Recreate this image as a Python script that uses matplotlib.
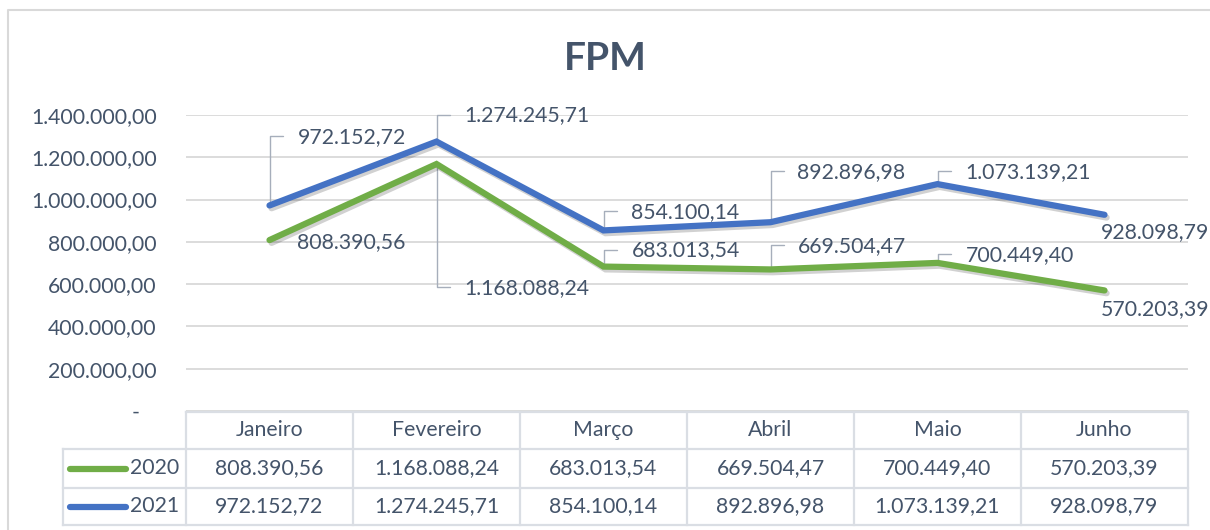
import matplotlib
matplotlib.use("Agg")
import matplotlib.pyplot as plt
import matplotlib.patheffects as pe
from matplotlib import transforms
from matplotlib.lines import Line2D
from matplotlib.ticker import FuncFormatter, MultipleLocator

# ---------------- data ----------------
months = ["Janeiro", "Fevereiro", "Março", "Abril", "Maio", "Junho"]
series_names = ["2020", "2021"]
values_2020 = [808390.56, 1168088.24, 683013.54, 669504.47, 700449.40, 570203.39]
values_2021 = [972152.72, 1274245.71, 854100.14, 892896.98, 1073139.21, 928098.79]

# ---------------- style ----------------
W, H = 1210, 530
TXT = "#44546A"
GREEN = "#70AD47"
BLUE = "#4472C4"
GRID = "#D9D9D9"
TABLE_LINE = "#DADEE4"
LEADER = "#A6AEBB"
FONT = "Lato"
FS = 15.3

plt.rcParams["font.family"] = [FONT, "DejaVu Sans"]


def br(v):
    s = f"{v:,.2f}"
    return s.replace(",", "X").replace(".", ",").replace("X", ".")


def fx(px):
    return px / W


def fy(py):
    return 1 - py / H


fig = plt.figure(figsize=(W / 100, H / 100), dpi=100)
fig.patch.set_facecolor("white")

# outer chart border (top and left edges visible; image cropped on right/bottom)
fig.add_artist(Line2D([fx(8), fx(8), fx(W)], [fy(H), fy(9.5), fy(9.5)],
                      transform=fig.transFigure, color="#D9D9D9", lw=1.5))

# axes: plot area
left, right, top, bottom = 186, 1188, 115, 411
ax = fig.add_axes([fx(left), fy(bottom), fx(right) - fx(left), fy(top) - fy(bottom)])
ax.set_xlim(-0.5, len(months) - 0.5)
ax.set_ylim(0, 1400000)
ax.yaxis.set_major_locator(MultipleLocator(200000))
ax.yaxis.set_major_formatter(FuncFormatter(lambda v, p: "-   " if v == 0 else br(v)))
ax.grid(axis="y", color=GRID, lw=1.3)
ax.set_axisbelow(True)
for s in ax.spines.values():
    s.set_visible(False)
ax.tick_params(axis="y", length=0, pad=21, labelsize=FS, labelcolor=TXT)
ax.tick_params(axis="x", length=0, labelbottom=False)
ax.set_xticks(range(len(months)))

xs = list(range(len(months)))
shadow = [pe.SimpleLineShadow(offset=(1.5, -2), alpha=0.18, shadow_color="black"), pe.Normal()]
ax.plot(xs, values_2020, color=GREEN, lw=4.5, solid_capstyle="round",
        solid_joinstyle="miter", path_effects=shadow, zorder=3)
ax.plot(xs, values_2021, color=BLUE, lw=4.5, solid_capstyle="round",
        solid_joinstyle="miter", path_effects=shadow, zorder=4)

# data labels: (dx, dy) in pixels from point to label's left/center, leader flag
offs_2021 = [(28, 68, True), (28, 26, True), (28, 18, True), (27, 50, True), (28, 12, True), (-4, -17, False)]
offs_2020 = [(28, -2, False), (28, -124, True), (28, 16, True), (27, 23, True), (28, 8, True), (-4, -19, False)]

for vals, offs in ((values_2021, offs_2021), (values_2020, offs_2020)):
    for i, (v, (dx, dy, lead)) in enumerate(zip(vals, offs)):
        ax.annotate(br(v), xy=(i, v), xytext=(dx, dy), textcoords="offset pixels",
                    ha="left", va="center", fontsize=FS, color=TXT, zorder=6,
                    annotation_clip=False)
        if lead:
            ax.annotate("", xy=(i, v), xytext=(13, dy + 1), textcoords="offset pixels",
                        arrowprops=dict(arrowstyle="-", color=LEADER, lw=1.0,
                                        shrinkA=0, shrinkB=0,
                                        connectionstyle="angle,angleA=0,angleB=90,rad=0"),
                        zorder=2)

# title
fig.text(0.5, fy(58), "FPM", ha="center", va="center", fontsize=28,
         fontweight="bold", color=TXT)

# ---------------- data table ----------------
tb = transforms.blended_transform_factory(ax.transData, fig.transFigure)
y_head_top, y_head_bot, y_r1_bot, y_r2_bot = 412, 449, 488, 525
tbl_left = 63
lw_t = 1.6


def hline(y, x0, x1):
    fig.add_artist(Line2D([fx(x0), fx(x1)], [fy(y), fy(y)], transform=fig.transFigure,
                          color=TABLE_LINE, lw=lw_t))


def vline(x, y0, y1):
    fig.add_artist(Line2D([fx(x), fx(x)], [fy(y0), fy(y1)], transform=fig.transFigure,
                          color=TABLE_LINE, lw=lw_t))


hline(y_head_top, left, right)
for y in (y_head_bot, y_r1_bot, y_r2_bot):
    hline(y, tbl_left, right)
vline(tbl_left, y_head_bot, y_r2_bot)
for k in range(len(months) + 1):
    xk = left + k * (right - left) / len(months)
    vline(xk, y_head_top, y_r2_bot)

for i, m in enumerate(months):
    fig.text(i, fy((y_head_top + y_head_bot) / 2), m, transform=tb, ha="center",
             va="center", fontsize=FS, color=TXT)
    fig.text(i, fy((y_head_bot + y_r1_bot) / 2), br(values_2020[i]), transform=tb,
             ha="center", va="center", fontsize=FS, color=TXT)
    fig.text(i, fy((y_r1_bot + y_r2_bot) / 2), br(values_2021[i]), transform=tb,
             ha="center", va="center", fontsize=FS, color=TXT)

for name, col, (ya, yb) in ((series_names[0], GREEN, (y_head_bot, y_r1_bot)),
                            (series_names[1], BLUE, (y_r1_bot, y_r2_bot))):
    yc = fy((ya + yb) / 2)
    fig.add_artist(Line2D([fx(70), fx(126)], [yc, yc], transform=fig.transFigure,
                          color=col, lw=4.5, solid_capstyle="round"))
    fig.text(fx(130), yc, name, ha="left", va="center", fontsize=FS, color=TXT)

fig.savefig("out.png", dpi=100)
